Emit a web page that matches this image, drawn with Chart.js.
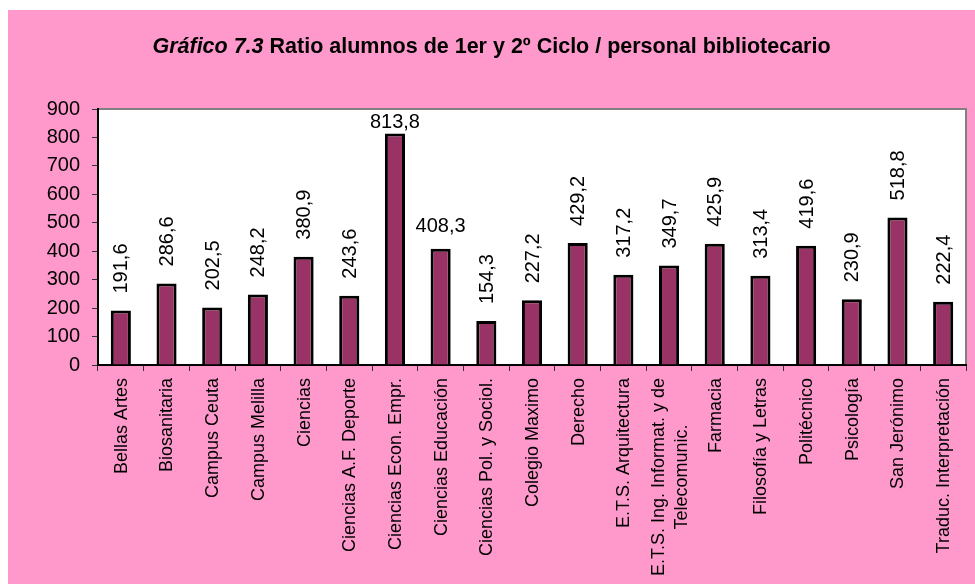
<!DOCTYPE html>
<html>
<head>
<meta charset="utf-8">
<script src="https://cdn.jsdelivr.net/npm/chart.js@4"></script>
<style>
  body { margin: 0; background: #fff; }
  #panel { position: absolute; left: 8px; top: 10px; width: 967px; height: 574px; background: #FF99CC; }
  #title { position: absolute; left: 0; top: 24px; width: 100%; text-align: center;
           font: bold 21.5px "Liberation Sans", Arial, sans-serif; color: #000; }
  canvas { position: absolute; left: 0; top: 0; }
</style>
</head>
<body>
<div id="panel">
  <canvas id="chart" width="967" height="574"></canvas>
  <div id="title"><i>Gráfico 7.3</i> Ratio alumnos de 1er y 2º Ciclo / personal bibliotecario</div>
</div>
<script>
const centros = [
  'Bellas Artes', 'Biosanitaria', 'Campus Ceuta', 'Campus Melilla', 'Ciencias',
  'Ciencias A.F. Deporte', 'Ciencias Econ. Empr.', 'Ciencias Educación',
  'Ciencias Pol. y Sociol.', 'Colegio Maximo', 'Derecho', 'E.T.S. Arquitectura',
  ['E.T.S. Ing. Informat. y de', 'Telecomunic.'], 'Farmacia', 'Filosofía y Letras',
  'Politécnico', 'Psicología', 'San Jerónimo', 'Traduc. Interpretación'
];
const ratios = [191.6, 286.6, 202.5, 248.2, 380.9, 243.6, 813.8, 408.3, 154.3, 227.2,
                429.2, 317.2, 349.7, 425.9, 313.4, 419.6, 230.9, 518.8, 222.4];
// value labels written horizontally instead of rotated
const etiquetasHorizontales = [6, 7];
const yTicks = [0, 100, 200, 300, 400, 500, 600, 700, 800, 900];

const FONT = '"Liberation Sans", Arial, sans-serif';
const fmt = v => v.toFixed(1).replace('.', ',');

const plotArea = {
  id: 'plotArea',
  beforeDraw(chart) {
    const { ctx, chartArea: a } = chart;
    ctx.save();
    ctx.fillStyle = '#fff';
    ctx.fillRect(a.left, a.top, a.right - a.left, a.bottom - a.top);
    ctx.strokeStyle = '#808080';
    ctx.lineWidth = 2;
    ctx.beginPath();
    ctx.moveTo(a.left, a.top);
    ctx.lineTo(a.right, a.top);
    ctx.lineTo(a.right, a.bottom);
    ctx.stroke();
    ctx.restore();
  }
};

const etiquetas = {
  id: 'etiquetas',
  afterDatasetsDraw(chart) {
    const { ctx, chartArea: a } = chart;
    const meta = chart.getDatasetMeta(0);
    ctx.save();
    ctx.fillStyle = '#000';
    ctx.font = '20px ' + FONT;
    meta.data.forEach((bar, i) => {
      const txt = fmt(ratios[i]);
      if (etiquetasHorizontales.includes(i)) {
        ctx.textAlign = 'center';
        ctx.textBaseline = 'alphabetic';
        ctx.fillText(txt, bar.x, Math.max(bar.y - 17, a.top + 19));
      } else {
        ctx.save();
        ctx.translate(bar.x + 1, bar.y - 17);
        ctx.rotate(-Math.PI / 2);
        ctx.textAlign = 'left';
        ctx.textBaseline = 'middle';
        ctx.fillText(txt, 0, 0);
        ctx.restore();
      }
    });

    // category names, rotated, hanging from the axis
    const x = chart.scales.x;
    ctx.font = '18px ' + FONT;
    ctx.textBaseline = 'middle';
    centros.forEach((c, i) => {
      const lines = Array.isArray(c) ? c : [c];
      const cx = x.getPixelForValue(i);
      const widths = lines.map(l => ctx.measureText(l).width);
      const maxW = Math.max(...widths);
      const lh = 23;
      lines.forEach((l, j) => {
        const off = (j - (lines.length - 1) / 2) * lh;
        ctx.save();
        ctx.translate(cx + off + 1, a.bottom + 13 + (maxW - widths[j]) / 2);
        ctx.rotate(-Math.PI / 2);
        ctx.textAlign = 'right';
        ctx.fillText(l, 0, 0);
        ctx.restore();
      });
    });
    ctx.restore();
  }
};

new Chart(document.getElementById('chart'), {
  type: 'bar',
  data: {
    labels: centros,
    datasets: [{
      data: ratios,
      backgroundColor: '#993366',
      borderColor: '#000',
      borderWidth: 3,
      barPercentage: 0.44,
      categoryPercentage: 1
    }]
  },
  options: {
    responsive: false,
    animation: false,
    layout: { padding: { top: 99, right: 9, left: 0, bottom: 0 } },
    plugins: { legend: { display: false }, tooltip: { enabled: false } },
    scales: {
      x: {
        ticks: { display: false },
        grid: { drawOnChartArea: false, tickLength: 6, color: '#333', lineWidth: 1 },
        border: { color: '#000', width: 2 },
        afterFit: s => { s.height = 219; }
      },
      y: {
        min: 0,
        max: 900,
        afterBuildTicks: s => { s.ticks = yTicks.map(v => ({ value: v })); },
        ticks: { color: '#000', font: { family: FONT, size: 20 }, padding: 12 },
        grid: { drawOnChartArea: false, tickLength: 6, color: '#333', lineWidth: 1 },
        border: { color: '#000', width: 2 },
        afterFit: s => { s.width = 90; }
      }
    }
  },
  plugins: [plotArea, etiquetas]
});
</script>
</body>
</html>
